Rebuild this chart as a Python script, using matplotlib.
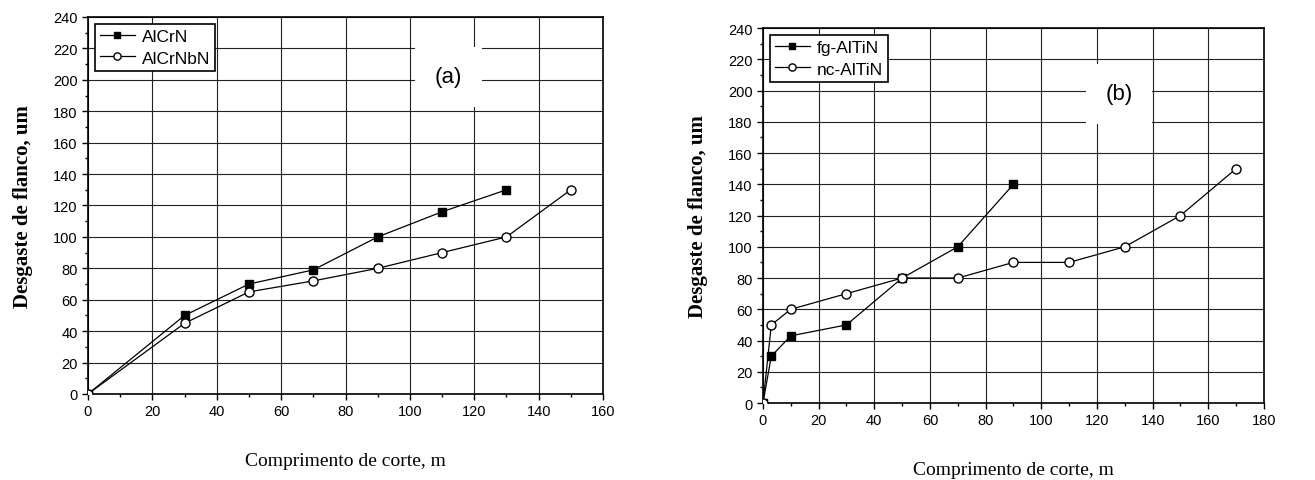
import matplotlib
matplotlib.use("Agg")
import matplotlib.pyplot as plt
from matplotlib.ticker import MultipleLocator

# Data (a)
a_x1 = [0, 30, 50, 70, 90, 110, 130]
a_y1 = [0, 50, 70, 79, 100, 116, 130]
a_x2 = [0, 30, 50, 70, 90, 110, 130, 150]
a_y2 = [0, 45, 65, 72, 80, 90, 100, 130]
a_labels = ["AlCrN", "AlCrNbN"]

# Data (b)
b_x1 = [0, 3, 10, 30, 50, 70, 90]
b_y1 = [0, 30, 43, 50, 80, 100, 140]
b_x2 = [0, 3, 10, 30, 50, 70, 90, 110, 130, 150, 170]
b_y2 = [0, 50, 60, 70, 80, 80, 90, 90, 100, 120, 150]
b_labels = ["fg-AlTiN", "nc-AlTiN"]

xlabel = "Comprimento de corte, m"
ylabel = "Desgaste de flanco, um"

fig = plt.figure(figsize=(13.15, 4.81), dpi=100)
ax1 = fig.add_axes([0.0669, 0.1788, 0.3917, 0.7838])
ax2 = fig.add_axes([0.5802, 0.160, 0.381, 0.7797])

sans = "Liberation Sans"
serif = "Liberation Serif"

def style(ax, xmax, panel, txy):
    ax.set_xlim(0, xmax)
    ax.set_ylim(0, 240)
    ax.xaxis.set_major_locator(MultipleLocator(20))
    ax.xaxis.set_minor_locator(MultipleLocator(10))
    ax.yaxis.set_major_locator(MultipleLocator(20))
    ax.yaxis.set_minor_locator(MultipleLocator(10))
    ax.grid(True, which="major", color="#222222", linewidth=0.8)
    ax.set_axisbelow(True)
    ax.tick_params(which="both", direction="out", labelsize=10.5, width=1)
    ax.tick_params(which="major", length=4)
    ax.tick_params(which="minor", length=2.5)
    for lab in ax.get_xticklabels() + ax.get_yticklabels():
        lab.set_family(sans)
    for s in ax.spines.values():
        s.set_linewidth(1.2)
    ax.set_xlabel(xlabel, family=serif, fontsize=14, labelpad=24)
    ax.set_ylabel(ylabel, family=serif, fontsize=15, fontweight="bold", labelpad=14)
    ax.text(txy[0], txy[1], panel, family=sans, fontsize=16, ha="center", va="center",
            bbox=dict(facecolor="white", edgecolor="none", pad=14), zorder=3)
    leg = ax.legend(loc="upper left", prop={"family": sans, "size": 12.5}, fancybox=False,
                    edgecolor="black", framealpha=1, handlelength=2.0, borderpad=0.3,
                    labelspacing=0.35, handletextpad=0.4, borderaxespad=0.4,
                    markerscale=0.8)
    leg.get_frame().set_linewidth(1.2)

ax1.plot(a_x1, a_y1, color="black", lw=0.9, marker="s", ms=6, mfc="black", label=a_labels[0], zorder=4)
ax1.plot(a_x2, a_y2, color="black", lw=0.9, marker="o", ms=6.5, mfc="white", label=a_labels[1], zorder=4)
style(ax1, 160, "(a)", (112, 202))

ax2.plot(b_x1, b_y1, color="black", lw=0.9, marker="s", ms=6, mfc="black", label=b_labels[0], zorder=4)
ax2.plot(b_x2, b_y2, color="black", lw=0.9, marker="o", ms=6.5, mfc="white", label=b_labels[1], zorder=4)
style(ax2, 180, "(b)", (128, 198))

fig.savefig("out.png", dpi=100, facecolor="white")
